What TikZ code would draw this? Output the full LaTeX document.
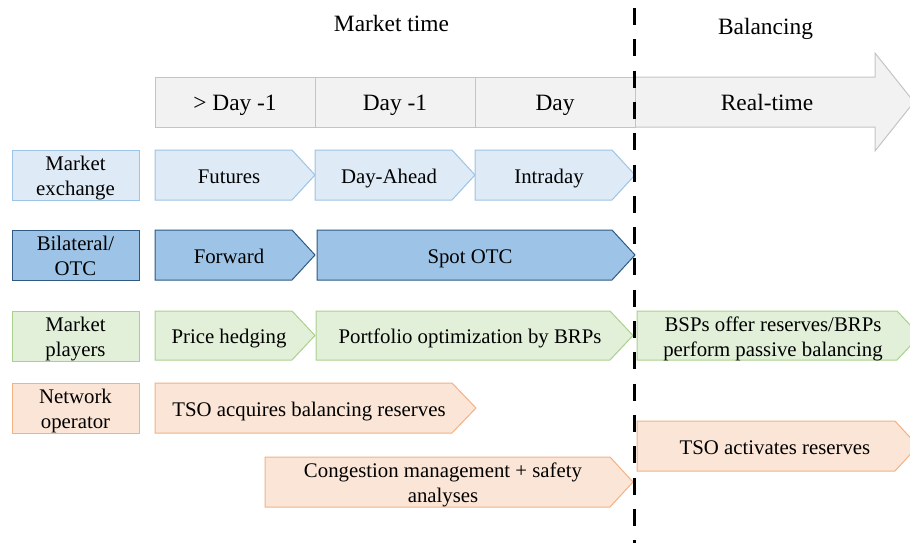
\documentclass[tikz,border=0pt]{standalone}
\usepackage{fontspec}
\setmainfont{Liberation Serif}
\begin{document}
\begin{tikzpicture}[x=1pt,y=-1pt,
  txt/.style={font=\fontsize{20.8}{25}\selectfont, align=center, inner sep=0pt, text=black},
  big/.style={txt, font=\fontsize{23.4}{28}\selectfont},
  hdr/.style={fill=hdrfill, draw=hdrline, line width=1pt},
  mex/.style={fill=mexfill, draw=mexline, line width=1pt},
  otc/.style={fill=otcfill, draw=otcline, line width=1pt},
  ply/.style={fill=plyfill, draw=plyline, line width=1pt},
  net/.style={fill=netfill, draw=netline, line width=1pt},
  divider/.style={line width=3.8pt, black, dash pattern=on 17pt off 14.3pt}]
\definecolor{hdrfill}{HTML}{F2F2F2}
\definecolor{hdrline}{HTML}{C4C4C4}
\definecolor{mexfill}{HTML}{DEEBF7}
\definecolor{mexline}{HTML}{9DC3E6}
\definecolor{otcfill}{HTML}{9DC3E6}
\definecolor{otcline}{HTML}{2E5A84}
\definecolor{plyfill}{HTML}{E2F0D9}
\definecolor{plyline}{HTML}{A9D18E}
\definecolor{netfill}{HTML}{FBE5D6}
\definecolor{netline}{HTML}{F4B183}
% fixed line boxes, so that every text line sits at the same height
\newcommand{\ls}{\rule[-4.5pt]{0pt}{25pt}}
\newcommand{\lsb}{\rule[-5pt]{0pt}{27.4pt}}
% chevron: style, name, left x, body end x, tip x, top y, bottom y, text x, text
\newcommand{\chevron}[9]{%
  \path[#1] (#3,#6) -- (#4,#6) -- (#5,{(#6+#7)/2}) -- (#4,#7) -- (#3,#7) -- cycle;
  \node[txt] (#2) at (#8,{(#6+#7)/2}) {#9};}
% row label box: style, name, top y, text
\newcommand{\rowlabel}[4]{%
  \path[#1] (12,#3) rectangle (139,{#3+50});
  \node[txt] (#2) at (75.5,{#3+25}) {#4};}

\useasboundingbox (0,0) rectangle (910,543);
\clip (0,0) rectangle (910,543);

% titles
\node[big] (mtime) at (391.5,23) {Market time\lsb};
\node[big] (bal) at (765.5,26.3) {Balancing\lsb};

% time axis
\path[hdr] (635,77) -- (875,77) -- (875,53) -- (914,102) -- (875,151) -- (875,127) -- (635,127) -- cycle;
\path[hdr] (155,77) rectangle (315,127);
\path[hdr] (315,77) rectangle (475,127);
\path[hdr] (475,77) rectangle (635,127);
\node[big] (d2) at (235,102) {> Day -1\lsb};
\node[big] (d1) at (395,102) {Day -1\lsb};
\node[big] (d0) at (555,102) {Day\lsb};
\node[big] (rt) at (767,102) {Real-time\lsb};

% market exchange
\rowlabel{mex}{lmex}{150}{Market\ls\\exchange\ls}
\chevron{mex}{fut}{155}{292}{315}{150}{200}{229}{Futures\ls}
\chevron{mex}{da}{315}{452}{475}{150}{200}{389}{Day-Ahead\ls}
\chevron{mex}{id}{475}{612}{635}{150}{200}{549}{Intraday\ls}

% bilateral / OTC
\rowlabel{otc}{lotc}{230}{Bilateral/\ls\\OTC\ls}
\chevron{otc}{fwd}{155}{292}{315}{230}{280}{229}{Forward\ls}
\chevron{otc}{spot}{317}{612}{635}{230}{280}{470}{Spot OTC\ls}

% market players
\rowlabel{ply}{lply}{311}{Market\ls\\players\ls}
\chevron{ply}{hedge}{155}{292}{315}{311}{360}{229}{Price hedging\ls}
\chevron{ply}{port}{316}{610}{633}{311}{360}{470}{Portfolio optimization by BRPs\ls}
\chevron{ply}{bsp}{637}{897}{920}{311}{360}{773}{BSPs offer reserves/BRPs\ls\\perform passive balancing\ls}

% network operator
\rowlabel{net}{lnet}{383}{Network\ls\\operator\ls}
\chevron{net}{acq}{155}{452}{476}{383}{433}{309}{TSO acquires balancing reserves\ls}
\chevron{net}{act}{637}{895}{918}{421}{471}{775}{TSO activates reserves\ls}
\chevron{net}{cong}{265}{610}{633}{457}{507}{443}{Congestion management + safety\ls\\analyses\ls}

% market time / balancing split
\coordinate (splittop) at (634.5,8);
\coordinate (splitbot) at (634.5,560);
\draw[divider] (splittop) -- (splitbot);
\end{tikzpicture}
\end{document}
